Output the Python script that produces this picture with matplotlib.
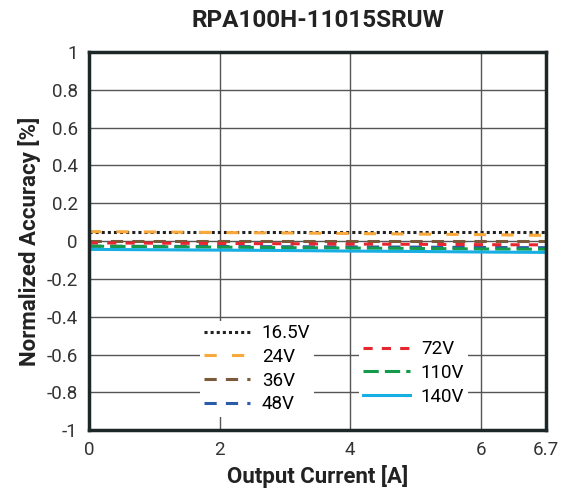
import matplotlib
matplotlib.use("Agg")
import matplotlib.pyplot as plt

plt.rcParams["font.family"] = ["Roboto", "DejaVu Sans"]

# data
current = [0, 1, 2, 3, 4, 5, 6, 7]
acc_16v5 = [0.05, 0.05, 0.05, 0.05, 0.05, 0.05, 0.05, 0.05]
acc_24v = [0.05, 0.048, 0.045, 0.043, 0.04, 0.037, 0.034, 0.03]
acc_36v = [0.0, 0.0, 0.0, 0.0, 0.0, 0.0, 0.0, 0.0]
acc_48v = [-0.027, -0.028, -0.029, -0.03, -0.031, -0.032, -0.034, -0.035]
acc_72v = [-0.01, -0.011, -0.013, -0.014, -0.016, -0.017, -0.019, -0.02]
acc_110v = [-0.027, -0.03, -0.032, -0.035, -0.037, -0.039, -0.042, -0.043]
acc_140v = [-0.044, -0.046, -0.048, -0.05, -0.053, -0.055, -0.058, -0.06]

xticks = [0, 2, 4, 6, 7]
xtick_labels = ["0", "2", "4", "6", "6.7"]
yticks = [-1, -0.8, -0.6, -0.4, -0.2, 0, 0.2, 0.4, 0.6, 0.8, 1]
ytick_labels = ["-1", "-0.8", "-0.6", "-0.4", "-0.2", "0", "0.2", "0.4", "0.6", "0.8", "1"]

fig = plt.figure(figsize=(5.66, 4.95), dpi=100)
ax = fig.add_axes([0.157, 0.131, 0.808, 0.764])

l1, = ax.plot(current, acc_16v5, color="#222222", linestyle=(0, (1, 1)), linewidth=2.2, label="16.5V")
l2, = ax.plot(current, acc_24v, color="#f9a93b", linestyle=(0, (4, 5)), linewidth=2.2, label="24V")
l3, = ax.plot(current, acc_36v, color="#7a5a3a", linestyle=(0, (4, 3)), linewidth=2.2, label="36V")
l4, = ax.plot(current, acc_48v, color="#2a5caa", linestyle=(0, (4, 3)), linewidth=2.2, label="48V")
l5, = ax.plot(current, acc_72v, color="#e8262f", linestyle=(0, (3, 3)), linewidth=2.2, label="72V")
l6, = ax.plot(current, acc_110v, color="#139a4a", linestyle=(0, (5, 2)), linewidth=2.2, label="110V")
l7, = ax.plot(current, acc_140v, color="#17aee4", linestyle="-", linewidth=2.2, label="140V")

ax.set_xlim(0, 7)
ax.set_ylim(-1, 1)
ax.set_xticks(xticks)
ax.set_xticklabels(xtick_labels)
ax.set_yticks(yticks)
ax.set_yticklabels(ytick_labels)
ax.tick_params(length=0, labelsize=13.5, colors="#333333", pad=8)
ax.grid(True, color="#555555", linewidth=1.0)
ax.set_axisbelow(True)
for s in ax.spines.values():
    s.set_linewidth(2.5)
    s.set_color("#1e2727")

ax.set_xlabel("Output Current [A]", fontsize=16, fontweight="bold", color="#222222", labelpad=4)
ax.set_ylabel("Normalized Accuracy [%]", fontsize=16, fontweight="bold", color="#222222", labelpad=4)
ax.set_title("RPA100H-11015SRUW", fontsize=17.5, fontweight="bold", color="#222222", pad=18)

leg1 = ax.legend(handles=[l1, l2, l3, l4], loc="lower left", bbox_to_anchor=(0.222, 0.01),
                 frameon=True, fontsize=13.5, handlelength=2.5, labelspacing=0.3,
                 borderpad=0.2, handletextpad=0.6)
leg1.get_frame().set_edgecolor("none")
leg1.get_frame().set_facecolor("white")
leg1.get_frame().set_alpha(1)
ax.add_artist(leg1)
leg2 = ax.legend(handles=[l5, l6, l7], loc="lower left", bbox_to_anchor=(0.57, 0.03),
                 frameon=True, fontsize=13.5, handlelength=2.5, labelspacing=0.3,
                 borderpad=0.2, handletextpad=0.6)
leg2.get_frame().set_edgecolor("none")
leg2.get_frame().set_facecolor("white")
leg2.get_frame().set_alpha(1)

fig.savefig("out.png", dpi=100)
